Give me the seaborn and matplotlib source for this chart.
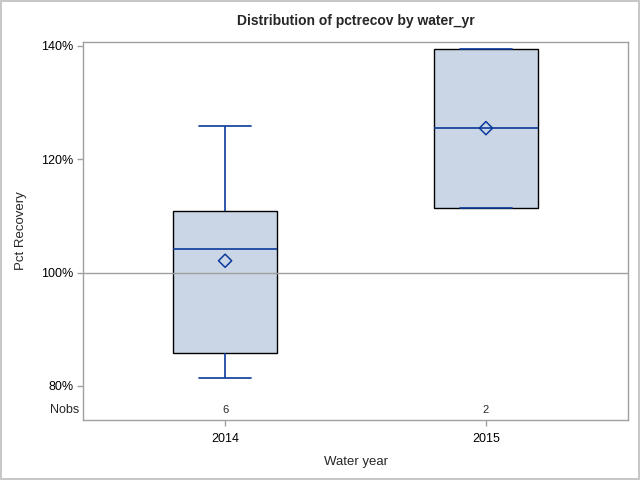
import pandas as pd
import matplotlib
matplotlib.use("Agg")
import matplotlib.pyplot as plt
import matplotlib.transforms as mtransforms
import seaborn as sns
from matplotlib.ticker import FuncFormatter

# five-number summaries (pct recovery)
water_years = ["2014", "2015"]
whisker_low = [81.4, 111.4]
q1 = [85.8, 111.4]
median = [104.2, 125.5]
q3 = [110.9, 139.5]
whisker_high = [125.9, 139.5]
means = [102.1, 125.5]
nobs = [6, 2]
y_ticks = [80, 100, 120, 140]

box_fill = "#CAD5E5"
line_blue = "#0B3A9B"
frame_gray = "#A0A0A0"

# long table: one row per summary value, numpy percentiles then give back the same box
rows = []
for i, yr in enumerate(water_years):
    for v in (whisker_low[i], q1[i], median[i], q3[i], whisker_high[i]):
        rows.append({"water_yr": yr, "pctrecov": v})
df = pd.DataFrame(rows)

sns.set_style("white")
plt.rcParams["font.family"] = ["Liberation Sans", "DejaVu Sans"]

fig = plt.figure(figsize=(6.4, 4.8), dpi=100)
fig.patch.set_edgecolor("#C8C8C8")
fig.patch.set_linewidth(1.5)
ax = fig.add_axes([0.130, 0.125, 0.851, 0.7875])

sns.boxplot(data=df, x="water_yr", y="pctrecov", order=water_years, ax=ax,
            width=0.4, whis=100, showfliers=False, saturation=1,
            color=box_fill, linecolor="black", linewidth=1,
            capwidths=0.2,
            boxprops=dict(facecolor=box_fill, edgecolor="black", zorder=2),
            medianprops=dict(color=line_blue, linewidth=1.2, zorder=4),
            whiskerprops=dict(color=line_blue, linewidth=1.2),
            capprops=dict(color=line_blue, linewidth=1.2))

ax.axhline(100, color=frame_gray, linewidth=1, zorder=3)

sns.scatterplot(x=list(range(len(means))), y=means, ax=ax, marker="D", s=45,
                facecolor="none", edgecolor=line_blue, linewidth=1.1, zorder=5)

# Nobs row inside the frame
trans = mtransforms.blended_transform_factory(ax.transAxes, ax.transData)
ax.text(-0.008, 75.8, "Nobs", transform=trans, ha="right", va="center", fontsize=9)
for i, n in enumerate(nobs):
    ax.text(i, 75.8, str(n), ha="center", va="center", fontsize=8)

ax.set_xlim(-0.544, 1.544)
ax.set_ylim(74.0, 140.7)
ax.set_yticks(y_ticks)
ax.yaxis.set_major_formatter(FuncFormatter(lambda v, p: f"{v:.0f}%"))

ax.set_title("Distribution of pctrecov by water_yr", fontsize=10, fontweight="bold", pad=12)
ax.set_xlabel("Water year", fontsize=9.5, labelpad=8)
ax.set_ylabel("Pct Recovery", fontsize=9.5, labelpad=10)

for s in ax.spines.values():
    s.set_color(frame_gray)
    s.set_linewidth(1)
ax.tick_params(axis="both", colors=frame_gray, labelcolor="black", length=4,
               width=1, labelsize=9, direction="out", left=True, bottom=True)
ax.tick_params(axis="x", pad=5)
ax.tick_params(axis="y", pad=3)

fig.savefig("out.png", dpi=100)
